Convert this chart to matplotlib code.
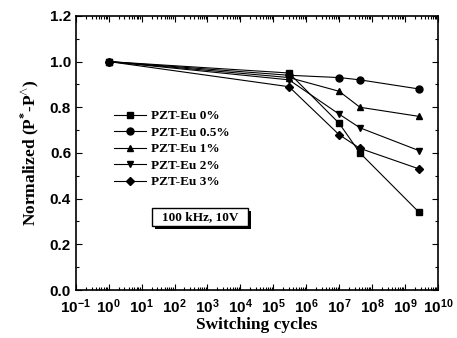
import math
import matplotlib.pyplot as plt
import matplotlib.ticker as ticker
from matplotlib.patches import Rectangle

# Data
cycles = [1e0, 3e5, 1e7, 4.3e7, 2.7e9]
labels = ['PZT-Eu 0%', 'PZT-Eu 0.5%', 'PZT-Eu 1%', 'PZT-Eu 2%', 'PZT-Eu 3%']
eu_0 = [1.0, 0.95, 0.73, 0.60, 0.34]
eu_05 = [1.0, 0.94, 0.93, 0.92, 0.88]
eu_1 = [1.0, 0.93, 0.87, 0.80, 0.76]
eu_2 = [1.0, 0.92, 0.77, 0.71, 0.61]
eu_3 = [1.0, 0.89, 0.68, 0.62, 0.53]
markers = ['s', 'o', '^', 'v', 'D']

serif = 'Liberation Serif'
sans = 'Liberation Sans'
plt.rcParams['mathtext.fontset'] = 'custom'
plt.rcParams['mathtext.rm'] = 'Liberation Serif:bold'
plt.rcParams['mathtext.bf'] = 'Liberation Serif:bold'
plt.rcParams['mathtext.sf'] = 'Liberation Sans:bold'

fig = plt.figure(figsize=(4.57, 3.38), dpi=100)
ax = fig.add_axes([0.166, 0.142, 0.792, 0.811])

series = [eu_0, eu_05, eu_1, eu_2, eu_3]
for vals, lab, m in zip(series, labels, markers):
    ax.plot(cycles, vals, color='black', lw=0.8, marker=m,
            markersize=5 if m != 'D' else 4.5, label=lab)

ax.set_xscale('log')
ax.set_xlim(1e-1, 1e10)
ax.set_ylim(0.0, 1.2)
ax.xaxis.set_major_locator(ticker.LogLocator(base=10, numticks=20))
ax.xaxis.set_minor_locator(ticker.LogLocator(base=10, subs=range(2, 10), numticks=20))
ax.xaxis.set_minor_formatter(ticker.NullFormatter())


def exp_fmt(v, pos):
    e = int(round(math.log10(v)))
    return r'$\mathsf{10^{%d}}$' % e


ax.xaxis.set_major_formatter(ticker.FuncFormatter(exp_fmt))
ax.yaxis.set_major_locator(ticker.MultipleLocator(0.2))
ax.yaxis.set_minor_locator(ticker.MultipleLocator(0.1))
ax.yaxis.set_major_formatter(ticker.FormatStrFormatter('%.1f'))

ax.tick_params(which='both', direction='in', top=True, right=True, width=0.8)
ax.tick_params(which='major', length=4)
ax.tick_params(which='minor', length=2)
ax.tick_params(axis='x', pad=5, labelsize=11)
ax.tick_params(axis='y', labelsize=11)
for lbl in ax.get_yticklabels():
    lbl.set_fontfamily(sans)
    lbl.set_fontweight('bold')
for sp in ax.spines.values():
    sp.set_linewidth(1.2)

ax.set_xlabel('Switching cycles', fontfamily=serif, fontweight='bold', fontsize=12.5, labelpad=1)
ax.set_ylabel(r'Normalized (P$^{*}$-P$^{\wedge}$)', fontfamily=serif, fontweight='bold',
              fontsize=12.5, labelpad=6)

ax.legend(loc='upper left', bbox_to_anchor=(0.08, 0.69), frameon=False,
          prop={'family': serif, 'weight': 'bold', 'size': 9.5},
          handlelength=2.4, handletextpad=0.4, labelspacing=0.32, borderpad=0.2)

# label box with drop shadow
ax.add_patch(Rectangle((0.218, 0.222), 0.265, 0.066, transform=ax.transAxes,
                       facecolor='black', edgecolor='none', zorder=4))
ax.add_patch(Rectangle((0.21, 0.234), 0.265, 0.066, transform=ax.transAxes,
                       facecolor='white', edgecolor='black', lw=1.0, zorder=5))
ax.text(0.3425, 0.267, '100 kHz, 10V', transform=ax.transAxes, fontfamily=serif,
        fontweight='bold', fontsize=9.5, va='center', ha='center', zorder=6)

fig.savefig('out.png', dpi=100)
